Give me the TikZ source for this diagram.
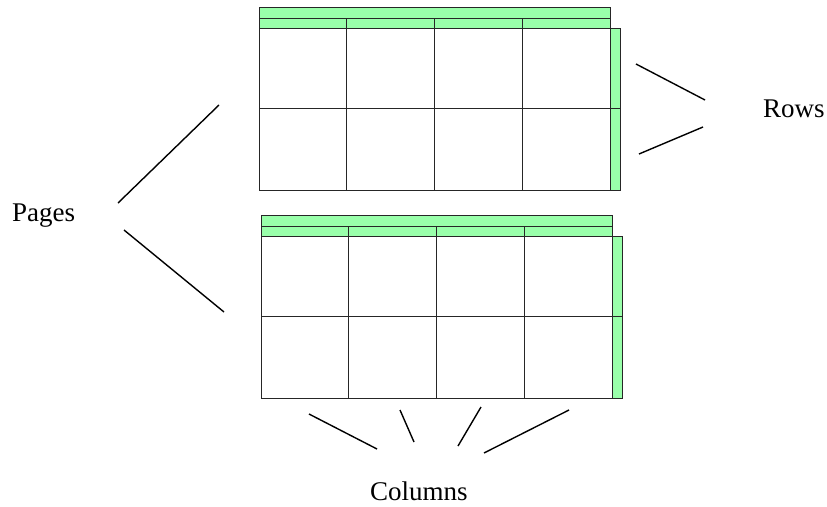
\documentclass[tikz,border=0pt]{standalone}
\usepackage{fontspec}
\setmainfont{Liberation Serif}
\usetikzlibrary{positioning}
\definecolor{bandgreen}{RGB}{153,255,170}

\begin{document}
\begin{tikzpicture}[
    x=1pt, y=-1pt,
    font=\fontsize{27}{30}\selectfont,
    cell/.style={draw=black!85, line width=0.9pt},
    band/.style={cell, fill=bandgreen},
    lbl/.style={anchor=base west, inner sep=0pt},
    stroke/.style={draw=black, line width=1.4pt}
  ]
    \useasboundingbox (0,0) rectangle (827,506);

    % two pages, each a header band, column heads, 2x4 cells and a row bar
    \foreach \pg/\dx/\dy in {top/259/7, bot/261/215} {
      \begin{scope}[shift={(\dx,\dy)}]
        \draw[band] (0,0) rectangle (351,11);
        \foreach \c in {0,...,3} {
          \draw[band] (\c*87.75,11) rectangle ++(87.75,10);
          \draw[cell] (\c*87.75,21) rectangle ++(87.75,80);
          \draw[cell] (\c*87.75,101) rectangle ++(87.75,82.5);
        }
        \draw[band] (351,21) rectangle (361,101);
        \draw[band] (351,101) rectangle (361,183.5);
      \end{scope}
    }

    % ==========================================
    \node[lbl] (pages)   at (12,221)  {Pages};
    \node[lbl] (rows)    at (763,117) {Rows};
    \node[lbl] (columns) at (370,500) {Columns};

    \path (118,203) coordinate (pg1a) (219,105) coordinate (pg1b)
          (124,230) coordinate (pg2a) (224,312) coordinate (pg2b);
    \path (705,100) coordinate (rw1a) (636,64)  coordinate (rw1b)
          (703,127) coordinate (rw2a) (639,154) coordinate (rw2b);
    \path (377,449) coordinate (cl1a) (309,414) coordinate (cl1b)
          (414,442) coordinate (cl2a) (400,410) coordinate (cl2b)
          (458,446) coordinate (cl3a) (481,407) coordinate (cl3b)
          (484,453) coordinate (cl4a) (569,410) coordinate (cl4b);

    \draw[stroke] (pg1a) -- (pg1b);
    \draw[stroke] (pg2a) -- (pg2b);
    \draw[stroke] (rw1a) -- (rw1b);
    \draw[stroke] (rw2a) -- (rw2b);
    \draw[stroke] (cl1a) -- (cl1b);
    \draw[stroke] (cl2a) -- (cl2b);
    \draw[stroke] (cl3a) -- (cl3b);
    \draw[stroke] (cl4a) -- (cl4b);

  \end{tikzpicture}
\end{document}
